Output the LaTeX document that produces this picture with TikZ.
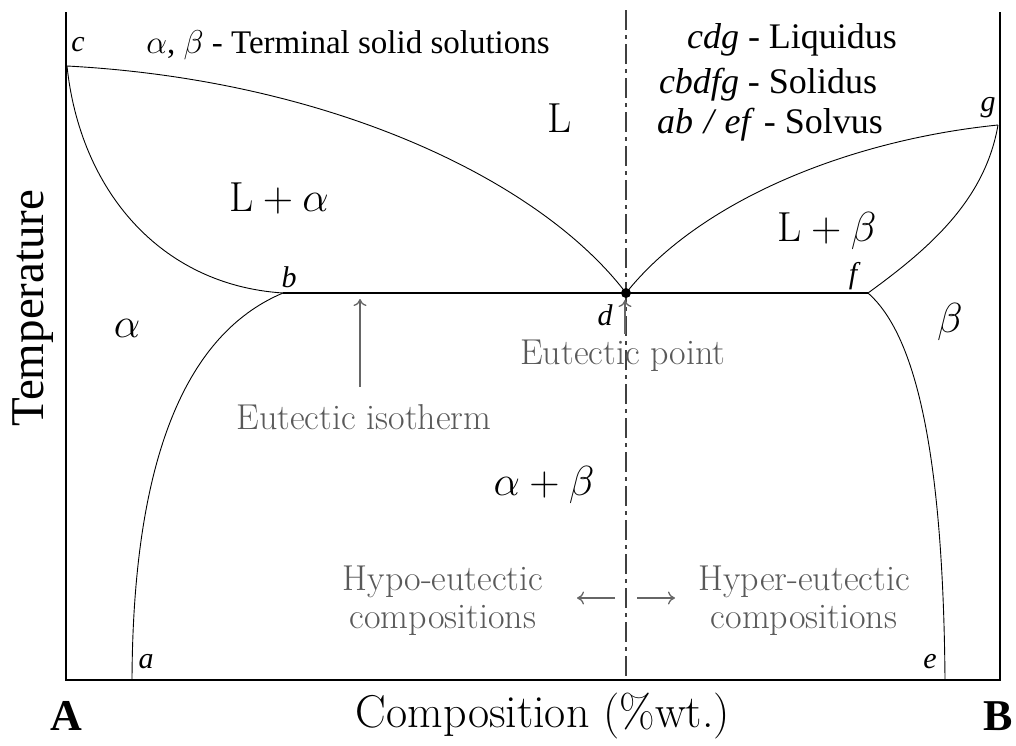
\RequirePackage{fix-cm}
\documentclass[tikz,border=0pt]{standalone}
\usepackage{fontspec}
\newfontfamily\timesfont{Liberation Serif}
\usepackage{tikz}
\usetikzlibrary{arrows.meta}

\begin{document}
\begin{tikzpicture}[x=1pt,y=-1pt,
		curve/.style={line width=0.9pt},
		frame/.style={line width=2.6pt},
		note/.style={text=black!65,font=\fontsize{36}{38}\selectfont,align=center},
		legend/.style={font=\timesfont\fontsize{36}{40}\selectfont},
		ptlabel/.style={font=\timesfont\itshape\fontsize{30}{34}\selectfont},
		phase/.style={font=\fontsize{42}{46}\selectfont},
		pointer/.style={-{To[length=7pt,width=13pt]},draw=black!60,line width=1.3pt}]
			\useasboundingbox (0,0) rectangle (1016,745);
			% the special points
			\coordinate (c) at (67,66);
			\coordinate (b) at (283,293);
			\coordinate (d) at (626,293);
			\coordinate (f) at (868,293);
			\coordinate (g) at (998,125);
			\coordinate (a) at (132,680);
			\coordinate (e) at (945,680);
			% axes
			\draw[frame] (66,12) -- (66,680) -- (1000,680) -- (1000,12);
			% eutectic composition line
			\draw[black!75,line width=1.8pt,dash pattern=on 20pt off 5pt on 4pt off 5pt] (626,10) -- (626,680);
			% liquidus cdg
			\draw[curve] (c) .. controls (330,80) and (540,180) .. (d);
			\draw[curve] (d) .. controls (700,200) and (850,140) .. (g);
			% solidus cb, fg
			\draw[curve] (c) .. controls (80,190) and (160,285) .. (b);
			\draw[curve] (f) .. controls (930,248) and (985,200) .. (g);
			% solvus ab, ef
			\draw[curve] (b) .. controls (195,330) and (133,440) .. (a);
			\draw[curve] (f) .. controls (910,330) and (943,430) .. (e);
			% eutectic isotherm and point
			\draw[line width=1.4pt] (b) -- (f);
			\fill (d) circle (5pt);
			% point letters
			\node[ptlabel] (lc) at (78,45) {c};
			\node[ptlabel] (lb) at (289,277) {b};
			\node[ptlabel] (ld) at (605,315) {d};
			\node[ptlabel] (lf) at (853,276) {f};
			\node[ptlabel] (lg) at (988,108) {g};
			\node[ptlabel] (la) at (146,662) {a};
			\node[ptlabel] (le) at (930,662) {e};
			% legend
			\node[legend,font=\timesfont\fontsize{33}{38}\selectfont] (terminal) at (348,45) {$\alpha$, $\beta$ - Terminal solid solutions};
			\node[legend] (liq) at (792,40) {\textit{cdg} - Liquidus};
			\node[legend] (sol) at (768,85) {\textit{cbdfg} - Solidus};
			\node[legend] (solv) at (770,125) {\textit{ab\hspace{0.3em}/\hspace{0.3em}ef} - Solvus};
			% phase fields
			\node[phase] (liquid) at (560,118) {L};
			\node[phase] (la2) at (279,198) {$\mathrm{L}+\alpha$};
			\node[phase] (lb2) at (827,231) {$\mathrm{L}+\beta$};
			\node[phase] (alpha) at (127,328) {$\alpha$};
			\node[phase] (beta) at (950,322) {$\beta$};
			\node[phase] (ab) at (544,485) {$\alpha+\beta$};
			% eutectic notes
			\node[note] (isolabel) at (364,417) {Eutectic isotherm};
			\coordinate (isotip) at (360,299);
			\draw[pointer,shorten <=14pt] (isolabel.north -| isotip) -- (isotip);
			\node[note] (eplabel) at (623,356) {Eutectic point};
			\coordinate (eptip) at (625,300);
			\draw[pointer,shorten <=3pt] (eplabel.north -| eptip) -- (eptip);
			% hypo / hyper
			\node[note] (hypo) at (443,601) {Hypo-eutectic\\compositions};
			\node[note] (hyper) at (804,601) {Hyper-eutectic\\compositions};
			\coordinate (split) at (626,598);
			\draw[pointer] ([xshift=-11pt]split) -- ([xshift=-49pt]split);
			\draw[pointer] ([xshift=11pt]split) -- ([xshift=49pt]split);
			% axis labels
			\node[font=\timesfont\bfseries\fontsize{44}{48}\selectfont] (compA) at (66,716) {A};
			\node[font=\timesfont\bfseries\fontsize{44}{48}\selectfont] (compB) at (998,716) {B};
			\node[font=\fontsize{46}{50}\selectfont] (xlab) at (543,716) {Composition (\%wt.)};
			\node[rotate=90,font=\timesfont\fontsize{47}{52}\selectfont] (ylab) at (33,308) {Temperature};
\end{tikzpicture}
\end{document}
